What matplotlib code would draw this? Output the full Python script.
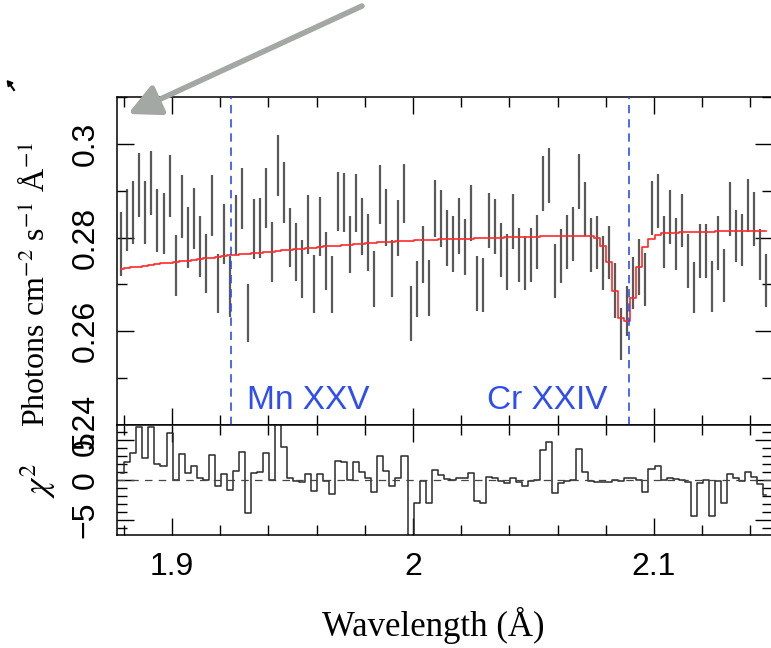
import numpy as np
import matplotlib
matplotlib.use("Agg")
import matplotlib.pyplot as plt
from matplotlib.ticker import MultipleLocator
from matplotlib.lines import Line2D

# ===== data =====
wave_start = 1.8790   # first bin centre (A)
wave_step = 0.0025    # bin width (A)

flux = [
    0.2787, 0.2837, 0.2854, 0.2912, 0.2854, 0.2917, 0.2837, 0.2831, 0.2910, 0.2740,
    0.2866, 0.2800, 0.2840, 0.2780, 0.2745, 0.2869, 0.2701, 0.2808, 0.2696, 0.2826,
    0.2884, 0.2639, 0.2819, 0.2821, 0.2885, 0.2770, 0.2953, 0.2897, 0.2800, 0.2770,
    0.2732, 0.2827, 0.2701, 0.2823, 0.2750, 0.2699, 0.2877, 0.2874, 0.2786, 0.2873,
    0.2824, 0.2789, 0.2712, 0.2892, 0.2843, 0.2734, 0.2820, 0.2894, 0.2638, 0.2690,
    0.2764, 0.2693, 0.2862, 0.2840, 0.2799, 0.2786, 0.2825, 0.2780, 0.2852, 0.2702,
    0.2699, 0.2837, 0.2824, 0.2774, 0.2748, 0.2835, 0.2763, 0.2746, 0.2763, 0.2790,
    0.2915, 0.2932, 0.2729, 0.2761, 0.2790, 0.2808, 0.2920, 0.2861, 0.2784, 0.2789,
    0.2746, 0.2768, 0.2687, 0.2594, 0.2643, 0.2703, 0.2737, 0.2711, 0.2863, 0.2878,
    0.2791, 0.2844, 0.2786, 0.2837, 0.2750, 0.2693, 0.2771, 0.2771, 0.2696, 0.2788,
    0.2719, 0.2861, 0.2803, 0.2795, 0.2869, 0.2840, 0.2764, 0.2709,
]
flux_err = [
    0.0068, 0.0066, 0.0067, 0.0069, 0.0067, 0.0068, 0.0067, 0.0065, 0.0067, 0.0065,
    0.0067, 0.0066, 0.0065, 0.0065, 0.0063, 0.0065, 0.0063, 0.0064, 0.0065, 0.0064,
    0.0065, 0.0061, 0.0064, 0.0064, 0.0064, 0.0064, 0.0065, 0.0065, 0.0063, 0.0062,
    0.0062, 0.0063, 0.0061, 0.0063, 0.0061, 0.0061, 0.0062, 0.0063, 0.0061, 0.0062,
    0.0061, 0.0061, 0.0060, 0.0062, 0.0061, 0.0061, 0.0060, 0.0062, 0.0059, 0.0060,
    0.0060, 0.0060, 0.0061, 0.0061, 0.0060, 0.0059, 0.0060, 0.0059, 0.0060, 0.0058,
    0.0058, 0.0059, 0.0059, 0.0058, 0.0059, 0.0059, 0.0058, 0.0058, 0.0058, 0.0058,
    0.0059, 0.0059, 0.0057, 0.0057, 0.0058, 0.0057, 0.0059, 0.0058, 0.0058, 0.0057,
    0.0058, 0.0057, 0.0058, 0.0055, 0.0054, 0.0055, 0.0059, 0.0056, 0.0058, 0.0058,
    0.0056, 0.0057, 0.0056, 0.0057, 0.0058, 0.0055, 0.0058, 0.0057, 0.0054, 0.0057,
    0.0056, 0.0057, 0.0055, 0.0055, 0.0057, 0.0057, 0.0055, 0.0057,
]
model = [
    0.2733, 0.2735, 0.2737, 0.2738, 0.2740, 0.2742, 0.2743, 0.2745, 0.2746, 0.2748,
    0.2750, 0.2751, 0.2753, 0.2754, 0.2756, 0.2757, 0.2759, 0.2760, 0.2762, 0.2763,
    0.2764, 0.2766, 0.2767, 0.2768, 0.2769, 0.2770, 0.2772, 0.2773, 0.2774, 0.2775,
    0.2776, 0.2777, 0.2778, 0.2779, 0.2781, 0.2782, 0.2783, 0.2784, 0.2785, 0.2786,
    0.2787, 0.2788, 0.2789, 0.2790, 0.2791, 0.2791, 0.2792, 0.2793, 0.2793, 0.2794,
    0.2794, 0.2795, 0.2795, 0.2796, 0.2796, 0.2797, 0.2797, 0.2798, 0.2798, 0.2799,
    0.2799, 0.2799, 0.2800, 0.2800, 0.2801, 0.2801, 0.2801, 0.2802, 0.2802, 0.2802,
    0.2803, 0.2803, 0.2803, 0.2804, 0.2804, 0.2804, 0.2804, 0.2804, 0.2803, 0.2799,
    0.2783, 0.2748, 0.2686, 0.2629, 0.2623, 0.2672, 0.2737, 0.2780, 0.2797, 0.2806,
    0.2810, 0.2810, 0.2810, 0.2811, 0.2811, 0.2811, 0.2812, 0.2812, 0.2812, 0.2813,
    0.2813, 0.2813, 0.2813, 0.2813, 0.2813, 0.2813, 0.2813, 0.2813,
]
resid = [
    0.9, 2.2, 3.4, 6.6, 2.8, 6.6, 2.0, 1.7, 5.9, 0.0,
    3.2, 0.9, 1.8, 0.2, 0.0, 3.1, -0.8, 0.7, -1.2, 1.1,
    3.5, -4.2, 0.9, 1.0, 3.4, 0.0, 8.0, 4.1, 0.2, -0.1,
    -0.3, 0.8, -1.4, 0.7, -0.1, -1.7, 2.4, 2.3, 0.0, 2.2,
    1.0, 0.2, -1.5, 3.0, 1.1, -0.8, 0.2, 3.0, -8.0, -2.9,
    -0.1, -2.9, 1.3, 0.6, 0.1, 0.0, 0.2, 0.3, 0.9, -2.6,
    -2.9, 0.4, 0.2, -0.1, -0.4, 0.3, -0.3, -0.8, -0.1, 0.0,
    3.8, 4.8, -1.6, -0.4, -0.1, 0.0, 3.9, 1.0, -0.1, -0.3,
    -0.3, -0.3, 0.0, -0.1, 0.2, 0.2, 0.0, -1.5, 1.4, 1.8,
    0.0, 0.3, 0.1, 0.0, -0.3, -4.5, -0.4, 0.0, -4.5, -0.1,
    -2.9, 0.8, 0.3, -0.1, 1.0, 0.4, -0.5, -1.9,
]

line_names = ["Mn XXV", "Cr XXIV"]
line_wave = [1.9245, 2.0896]

xticks = [1.9, 2.0, 2.1]
xtick_labels = ["1.9", "2", "2.1"]
yticks = [0.24, 0.26, 0.28, 0.30]
ytick_labels = ["0.24", "0.26", "0.28", "0.3"]
rticks = [-5, 0, 5]
rtick_labels = ["\u22125", "0", "5"]

wave = wave_start + wave_step * np.arange(len(flux))

# ===== style =====
W, H = 771, 648
SANS = "Liberation Sans"
SERIF = "Liberation Serif"
plt.rcParams["mathtext.fontset"] = "stix"
blue = "#2f4ef2"

fig = plt.figure(figsize=(W / 100, H / 100), dpi=100)

left, right = 117, 772
top, mid, bottom = 97, 425, 535
ax1 = fig.add_axes([left / W, (H - mid) / H, (right - left) / W, (mid - top) / H])
ax2 = fig.add_axes([left / W, (H - bottom) / H, (right - left) / W, (bottom - mid) / H],
                   sharex=ax1)

# upper panel: data + model
ax1.errorbar(wave, flux, yerr=flux_err, fmt="none", ecolor="#3c3c3c",
             elinewidth=1.6, alpha=0.85, capsize=0, zorder=2)
ax1.step(wave, model, where="mid", color="#ff2a2a", lw=1.2, zorder=3)
for lw_ in line_wave:
    ax1.axvline(lw_, color=blue, lw=1.2, ls=(0, (5, 3.5)), zorder=4)
ax1.text(1.9311, 0.2453, line_names[0], color=blue, fontsize=24, family=SANS,
         ha="left", va="center")
ax1.text(2.0307, 0.2453, line_names[1], color=blue, fontsize=24, family=SANS,
         ha="left", va="center")

ax1.set_xlim(1.8772, 2.1490)
ax1.set_ylim(0.24, 0.31)

# lower panel: residuals
ax2.step(wave, resid, where="mid", color="#2a2a2a", lw=1.1)
ax2.axhline(0, color="#444444", lw=0.9, ls=(0, (6, 5)))
ax2.set_ylim(-6.9, 6.9)

for ax in (ax1, ax2):
    ax.tick_params(which="both", direction="in", top=True, right=True,
                   width=1.0, colors="black")
    ax.tick_params(which="major", length=12)
    ax.tick_params(which="minor", length=7)
    ax.tick_params(axis="y", labelrotation=90, pad=12, labelsize=23)
    ax.tick_params(axis="x", pad=12, labelsize=23)
    ax.xaxis.set_minor_locator(MultipleLocator(0.02))
    for s in ax.spines.values():
        s.set_linewidth(1.1)

ax1.set_yticks(yticks)
ax1.set_yticklabels(ytick_labels)
ax1.yaxis.set_minor_locator(MultipleLocator(0.01))
ax1.tick_params(axis="x", labelbottom=False)

ax2.set_xticks(xticks)
ax2.set_xticklabels(xtick_labels)
ax2.set_yticks(rticks)
ax2.set_yticklabels(rtick_labels)
ax2.yaxis.set_minor_locator(MultipleLocator(1))

for ax in (ax1, ax2):
    for lab in ax.get_yticklabels() + ax.get_xticklabels():
        lab.set_family(SANS)
    for lab in ax.get_yticklabels():
        lab.set_va("center")

# axis titles
fig.text(36 / W, (H - 284) / H, "Photons cm$^{-2}$ s$^{-1}$ \u00c5$^{-1}$",
         rotation=90, ha="center", va="center", fontsize=23, family=SERIF)
fig.text(38 / W, (H - 480) / H, r"$\chi^2$", rotation=90, ha="center",
         va="center", fontsize=25)
fig.text(433 / W, (H - 625) / H, "Wavelength (\u00c5)", ha="center",
         va="center", fontsize=25, family=SERIF)

# grey pointer arrow and the mouse cursor
fig.add_artist(matplotlib.patches.FancyArrowPatch(
    (362, H - 6), (128, H - 114), transform=None, arrowstyle="-|>",
    mutation_scale=48, lw=4, color="#a4a8a4", shrinkA=0, shrinkB=0))
fig.add_artist(Line2D([9, 14], [H - 83, H - 90], lw=1.5,
                      color="black", transform=None))
fig.add_artist(Line2D([9], [H - 83], marker=(3, 0, 40), ms=5,
                      color="black", transform=None))

fig.savefig("out.png", dpi=100)
